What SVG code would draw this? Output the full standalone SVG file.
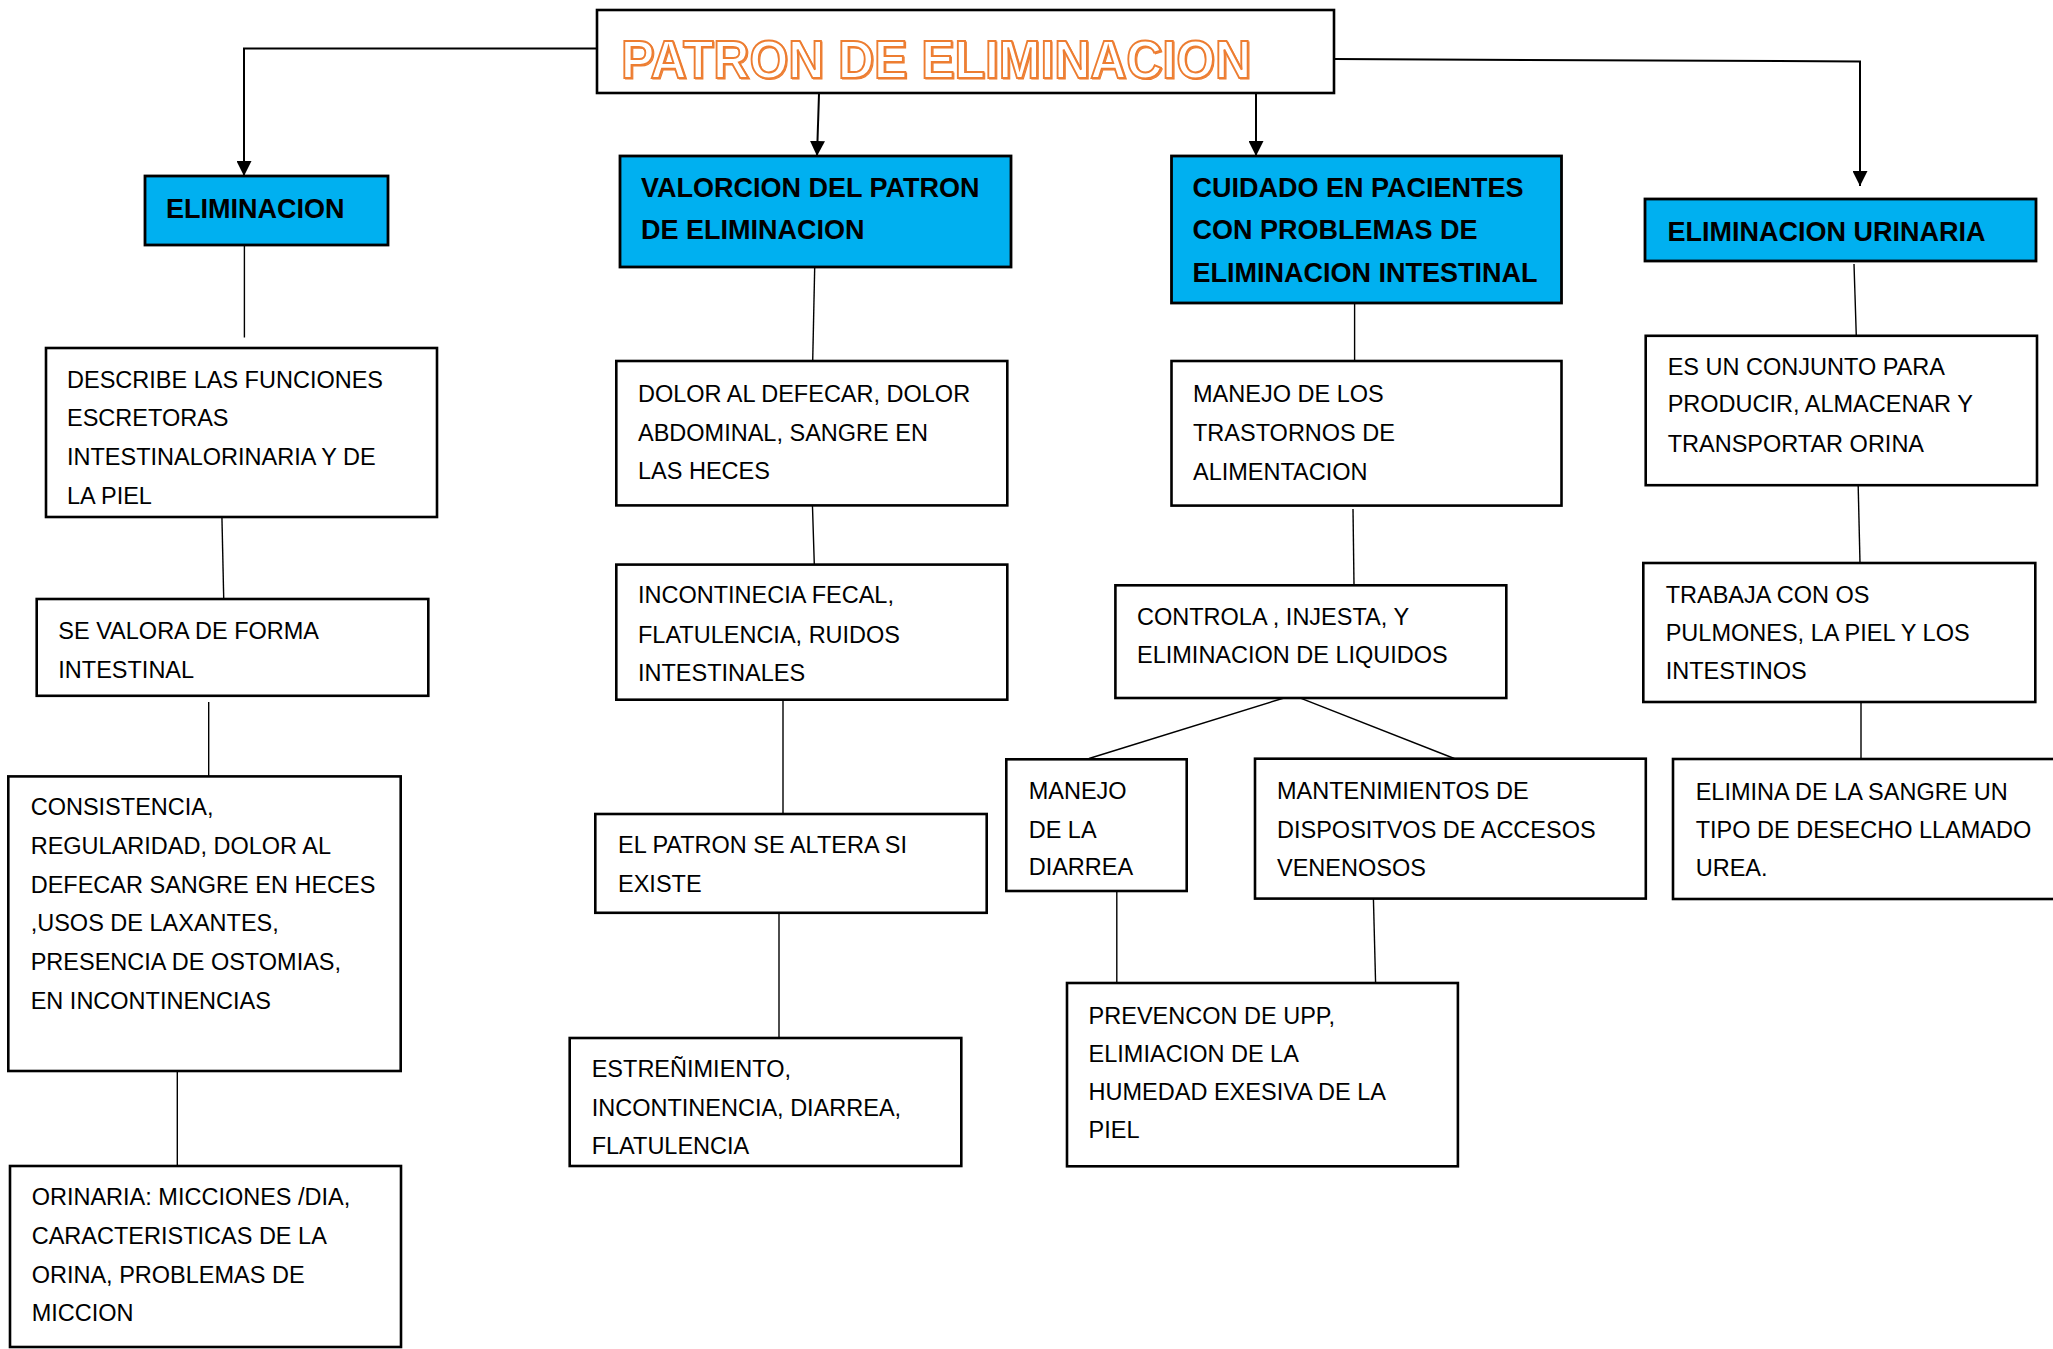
<svg xmlns="http://www.w3.org/2000/svg" width="2053" height="1349" viewBox="0 0 2053 1349">
<style>
.bg{fill:#fff}
.box{fill:#fff;stroke:#000;stroke-width:2.6}
.hbox{fill:#00B0F0;stroke:#000;stroke-width:2.8}
.t{font-family:"Liberation Sans",Arial,sans-serif;font-size:23.5px;fill:#000}
.h{font-family:"Liberation Sans",Arial,sans-serif;font-size:27px;font-weight:bold;fill:#000}
.title{font-family:"Liberation Sans",Arial,sans-serif;font-size:54px;font-weight:bold;fill:#fff;stroke:#ED7D31;stroke-width:2}
.shadow{font-family:"Liberation Sans",Arial,sans-serif;font-size:54px;font-weight:bold;fill:#F4B183;stroke:#ED7D31;stroke-width:1.2}
.arr{fill:none;stroke:#000;stroke-width:2}
.ln{fill:none;stroke:#000;stroke-width:1.4}
</style>
<defs>
<marker id="ah" viewBox="0 0 10 10" refX="10" refY="5" markerWidth="15" markerHeight="15" markerUnits="userSpaceOnUse" orient="auto">
<path d="M0,0 L10,5 L0,10 z" fill="#000"/>
</marker>
</defs>
<rect class="bg" x="0" y="0" width="2053" height="1349"/>

<g id="connectors">
<polyline class="arr" points="597,48.6 244,48.6 244,176" marker-end="url(#ah)"/>
<line class="arr" x1="819" y1="94" x2="817" y2="156" marker-end="url(#ah)"/>
<line class="arr" x1="1256" y1="94" x2="1256" y2="156" marker-end="url(#ah)"/>
<polyline class="arr" points="1334,59 1860,61.5 1860,186" marker-end="url(#ah)"/>
<line class="ln" x1="244.4" y1="245" x2="244.4" y2="337.5"/>
<line class="ln" x1="221.7" y1="506.7" x2="223.7" y2="598"/>
<line class="ln" x1="208.7" y1="702" x2="208.7" y2="776"/>
<line class="ln" x1="177.3" y1="1071" x2="177.3" y2="1166"/>
<line class="ln" x1="814.7" y1="267" x2="812.7" y2="361"/>
<line class="ln" x1="812.3" y1="501" x2="814.3" y2="564"/>
<line class="ln" x1="783" y1="696.5" x2="783" y2="814"/>
<line class="ln" x1="779" y1="907" x2="779" y2="1038"/>
<line class="ln" x1="1354.6" y1="303" x2="1354.6" y2="361"/>
<line class="ln" x1="1353" y1="509" x2="1354" y2="585"/>
<line class="ln" x1="1284" y1="698" x2="1089" y2="758.5"/>
<line class="ln" x1="1296" y1="696.4" x2="1454.3" y2="758.5"/>
<line class="ln" x1="1116.8" y1="891" x2="1116.8" y2="983"/>
<line class="ln" x1="1373.4" y1="898" x2="1375.6" y2="983"/>
<line class="ln" x1="1854" y1="264" x2="1856.3" y2="336"/>
<line class="ln" x1="1858" y1="478" x2="1860" y2="563"/>
<line class="ln" x1="1861" y1="694" x2="1861" y2="759"/>
</g>

<g id="title">
<rect class="box" x="597" y="10" width="737" height="83"/>
<text class="shadow" x="622.2" y="79.4" textLength="630" lengthAdjust="spacingAndGlyphs">PATRON DE ELIMINACION</text>
<text class="title" x="621" y="78" textLength="630" lengthAdjust="spacingAndGlyphs">PATRON DE ELIMINACION</text>
</g>

<g id="eliminacion">
<rect class="hbox" x="145" y="176" width="243" height="69"/>
<text class="h" x="166" y="218">ELIMINACION</text>
</g>

<g id="valoracion">
<rect class="hbox" x="620" y="156" width="391" height="111"/>
<text class="h" x="641" y="197">VALORCION DEL PATRON</text>
<text class="h" x="641" y="239">DE ELIMINACION</text>
</g>

<g id="cuidado">
<rect class="hbox" x="1171.5" y="156" width="390" height="147"/>
<text class="h" x="1192.6" y="197">CUIDADO EN PACIENTES</text>
<text class="h" x="1192.6" y="239">CON PROBLEMAS DE</text>
<text class="h" x="1192.6" y="282">ELIMINACION INTESTINAL</text>
</g>

<g id="urinaria">
<rect class="hbox" x="1645" y="199" width="391" height="62"/>
<text class="h" x="1667.5" y="241">ELIMINACION URINARIA</text>
</g>

<g id="describe">
<rect class="box" x="46" y="348" width="391" height="169"/>
<text class="t" x="67" y="388">DESCRIBE LAS FUNCIONES</text>
<text class="t" x="67" y="426">ESCRETORAS</text>
<text class="t" x="67" y="465">INTESTINALORINARIA Y DE</text>
<text class="t" x="67" y="503.5">LA PIEL</text>
</g>

<g id="sevalora">
<rect class="box" x="36.7" y="599" width="391.6" height="96.8"/>
<text class="t" x="58.3" y="638.6">SE VALORA DE FORMA</text>
<text class="t" x="58.3" y="677.6">INTESTINAL</text>
</g>

<g id="consistencia">
<rect class="box" x="8.3" y="776.4" width="392.4" height="294.6"/>
<text class="t" x="30.7" y="815.4">CONSISTENCIA,</text>
<text class="t" x="30.7" y="853.7">REGULARIDAD, DOLOR AL</text>
<text class="t" x="30.7" y="892.7">DEFECAR SANGRE EN HECES</text>
<text class="t" x="30.7" y="931">,USOS DE LAXANTES,</text>
<text class="t" x="30.7" y="970">PRESENCIA DE OSTOMIAS,</text>
<text class="t" x="30.7" y="1009">EN INCONTINENCIAS</text>
</g>

<g id="orinaria">
<rect class="box" x="10" y="1166" width="391" height="181"/>
<text class="t" x="31.7" y="1205">ORINARIA: MICCIONES /DIA,</text>
<text class="t" x="31.7" y="1244">CARACTERISTICAS DE LA</text>
<text class="t" x="31.7" y="1282.6">ORINA, PROBLEMAS DE</text>
<text class="t" x="31.7" y="1321">MICCION</text>
</g>

<g id="dolor">
<rect class="box" x="616.3" y="361" width="391" height="144.4"/>
<text class="t" x="638" y="401.5">DOLOR AL DEFECAR, DOLOR</text>
<text class="t" x="638" y="440.5">ABDOMINAL, SANGRE EN</text>
<text class="t" x="638" y="478.8">LAS HECES</text>
</g>

<g id="incontinecia">
<rect class="box" x="616.3" y="564.6" width="391" height="135.1"/>
<text class="t" x="638" y="603">INCONTINECIA FECAL,</text>
<text class="t" x="638" y="643">FLATULENCIA, RUIDOS</text>
<text class="t" x="638" y="681">INTESTINALES</text>
</g>

<g id="elpatron">
<rect class="box" x="595.3" y="814" width="391.4" height="98.8"/>
<text class="t" x="618" y="853">EL PATRON SE ALTERA SI</text>
<text class="t" x="618" y="892">EXISTE</text>
</g>

<g id="estrenimiento">
<rect class="box" x="569.7" y="1038" width="391.6" height="128"/>
<text class="t" x="591.7" y="1077">ESTREÑIMIENTO,</text>
<text class="t" x="591.7" y="1116">INCONTINENCIA, DIARREA,</text>
<text class="t" x="591.7" y="1154">FLATULENCIA</text>
</g>

<g id="manejo-trastornos">
<rect class="box" x="1171.5" y="361" width="390" height="144.6"/>
<text class="t" x="1193" y="401.5">MANEJO DE LOS</text>
<text class="t" x="1193" y="441">TRASTORNOS DE</text>
<text class="t" x="1193" y="479.6">ALIMENTACION</text>
</g>

<g id="controla">
<rect class="box" x="1115.4" y="585.3" width="390.9" height="112.7"/>
<text class="t" x="1137" y="625.4">CONTROLA , INJESTA, Y</text>
<text class="t" x="1137" y="662.8">ELIMINACION DE LIQUIDOS</text>
</g>

<g id="diarrea">
<rect class="box" x="1006.3" y="759.3" width="180.4" height="131.7"/>
<text class="t" x="1028.7" y="798.8">MANEJO</text>
<text class="t" x="1028.7" y="837.9">DE LA</text>
<text class="t" x="1028.7" y="875.3">DIARREA</text>
</g>

<g id="mantenimientos">
<rect class="box" x="1255" y="758.7" width="390.8" height="139.9"/>
<text class="t" x="1277" y="798.8">MANTENIMIENTOS DE</text>
<text class="t" x="1277" y="837.9">DISPOSITVOS DE ACCESOS</text>
<text class="t" x="1277" y="876">VENENOSOS</text>
</g>

<g id="prevencon">
<rect class="box" x="1067" y="983" width="390.9" height="183.3"/>
<text class="t" x="1088.6" y="1023.8">PREVENCON DE UPP,</text>
<text class="t" x="1088.6" y="1061.7">ELIMIACION DE LA</text>
<text class="t" x="1088.6" y="1099.6">HUMEDAD EXESIVA DE LA</text>
<text class="t" x="1088.6" y="1137.6">PIEL</text>
</g>

<g id="conjunto">
<rect class="box" x="1645.7" y="335.8" width="391.3" height="149.4"/>
<text class="t" x="1667.7" y="374.9">ES UN CONJUNTO PARA</text>
<text class="t" x="1667.7" y="412.4">PRODUCIR, ALMACENAR Y</text>
<text class="t" x="1667.7" y="451.5">TRANSPORTAR ORINA</text>
</g>

<g id="trabaja">
<rect class="box" x="1643.3" y="563" width="392" height="139"/>
<text class="t" x="1665.7" y="603">TRABAJA CON OS</text>
<text class="t" x="1665.7" y="641">PULMONES, LA PIEL Y LOS</text>
<text class="t" x="1665.7" y="678.8">INTESTINOS</text>
</g>

<g id="elimina">
<rect class="box" x="1673" y="759" width="384" height="140"/>
<text class="t" x="1695.7" y="800">ELIMINA DE LA SANGRE UN</text>
<text class="t" x="1695.7" y="838">TIPO DE DESECHO LLAMADO</text>
<text class="t" x="1695.7" y="876">UREA.</text>
</g>
</svg>
